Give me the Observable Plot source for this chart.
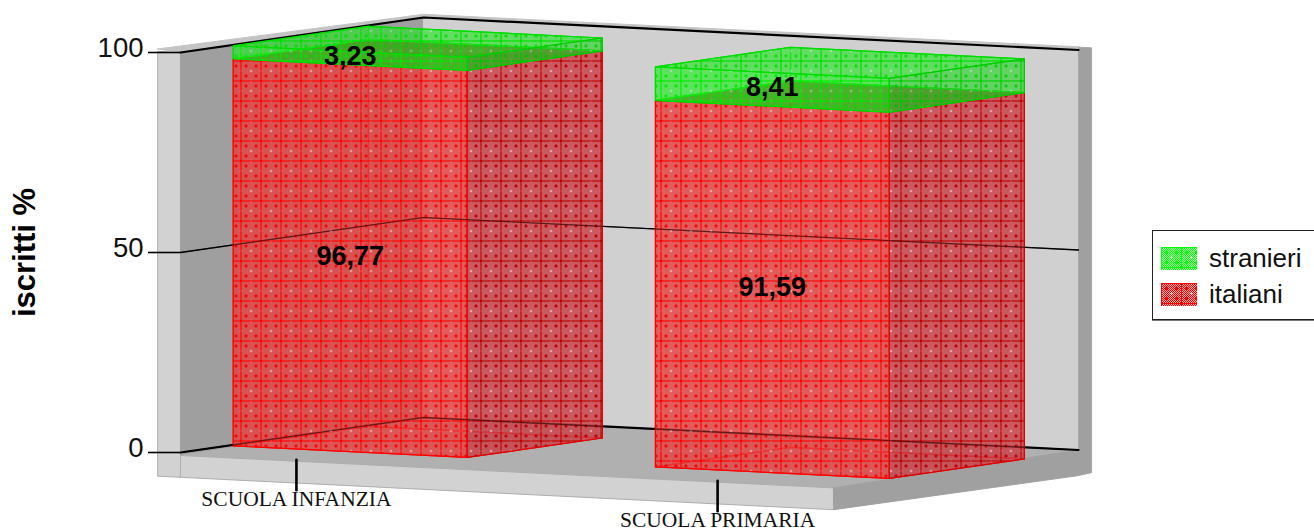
<!DOCTYPE html>
<html lang="it">
<head>
<meta charset="utf-8">
<script src="https://cdn.jsdelivr.net/npm/d3@7"></script>
<script src="https://cdn.jsdelivr.net/npm/@observablehq/plot@0.6"></script>
<style>
  html, body { margin: 0; padding: 0; background: #fff; }
  #chart { position: relative; width: 1314px; height: 531px; overflow: hidden; }
  #chart > svg { position: absolute; left: 0; top: 0; background: #fff; }
  #legend { position: absolute; left: 1152px; top: 230px; width: 170px; height: 88px;
    border: 1.5px solid #222; box-shadow: 0 1px 0 #777; font: 26px "Liberation Sans", sans-serif; color: #111; background: #fff; }
  #legend .row { position: absolute; left: 8px; display: flex; align-items: center; height: 24px; }
  #legend svg { width: 36px; height: 23px; margin-right: 12px; display: block; }
</style>
</head>
<body>
<div id="chart"></div>
<script>
// ---- data
const categories = ["SCUOLA INFANZIA", "SCUOLA PRIMARIA"];
const italiani = [96.77, 91.59];
const stranieri = [3.23, 8.41];
const valueLabels = {italiani: ["96,77", "91,59"], stranieri: ["3,23", "8,41"]};
const yTicks = [0, 50, 100];
const seriesNames = ["stranieri", "italiani"];

// ---- oblique axes: u along the categories, d into the depth, v = percentage
const skewX = 243 / 655, riseU = 32.5 / 4, riseD = 35 / 4;
const px = (u, d) => u + d * skewX;
const py = (u, d, v) => v - u * riseU + d * riseD;
const barStart = [0.0075, 0.652], tickU = [0.177, 0.82];
const barW = 0.357, d0 = 0.197, d1 = 0.753;

const poly = (id, fill, stroke, pts) =>
  [...pts, pts[0]].map(([u, d, v]) => ({id, fill, stroke, x: px(u, d), y: py(u, d, v)}));

// ---- chart shell
const shell = [
  ...poly("frontLeft", "#d2d2d2", "#b0b0b0", [[-0.035, 0, 100], [0, 0, 100], [0, 0, -6.2], [-0.035, 0, -6.2]]),
  ...poly("lip", "#c4c4c4", "#c4c4c4", [[-0.035, 0, 100.6], [0, 1, 100.8], [1, 1, 100.8], [1, 1, 100], [0, 1, 100], [0, 0, 100]]),
  ...poly("leftWall", "#9f9f9f", "#9f9f9f", [[0, 0, 100], [0, 1, 100], [0, 1, 0], [0, 0, -0.75]]),
  ...poly("backWall", "#d0d0d0", "#d0d0d0", [[0, 1, 100], [1, 1, 100], [1, 1, 0], [0, 1, 0]]),
  ...poly("rightWall", "#a0a0a0", "#a8a8a8", [[1, 1, 100.7], [1.02, 1, 100.7], [1.02, 1, -5.5], [1, 1, -6.4]]),
  ...poly("floor", "#b0b0b0", "#b0b0b0", [[0, 0, -0.75], [0, 1, 0], [1, 1, 0], [0.997, 0, -0.75]]),
  ...poly("floorFront", "#d2d2d2", "#adadad", [[0, 0, -0.75], [0.997, 0, -0.75], [0.997, 0, -6.2], [0, 0, -6.2]]),
  ...poly("floorSide", "#a0a0a0", "#a0a0a0", [[0.997, 0, -0.75], [1, 1, 0], [1, 1, -6.4], [0.997, 0, -6.2]])
];

// ---- horizontal reference lines on the walls
const gridLines = yTicks.flatMap((v) =>
  [[0, 0], [0, 1], [1, 1]].map(([u, d]) => ({v, x: px(u, d), y: py(u, d, v)})));
const lineWeight = (d) => (d.v === 50 ? 1.3 : 2.2);

// ---- bars
const faces = [];
function addBox(name, i, lo, hi, c) {
  const a = barStart[i], b = a + barW, key = `${name}${i}`;
  const f = (tag, fill, stroke, pts) => faces.push(...poly(key + tag, fill, stroke, pts));
  const edge = c === "r" ? "#f00" : "#0d0";
  f("bottom", c === "r" ? "url(#rBack)" : "none", edge, [[a, d0, lo], [b, d0, lo], [b, d1, lo], [a, d1, lo]]);
  f("back", `url(#${c}Back)`, edge, [[a, d1, lo], [b, d1, lo], [b, d1, hi], [a, d1, hi]]);
  f("left", `url(#${c}Back)`, edge, [[a, d0, lo], [a, d1, lo], [a, d1, hi], [a, d0, hi]]);
  f("top", `url(#${c}Top)`, c === "r" ? "#0b0" : "#0d0", [[a, d0, hi], [b, d0, hi], [b, d1, hi], [a, d1, hi]]);
  f("front", `url(#${c}Front)`, edge, [[a, d0, lo], [b, d0, lo], [b, d0, hi], [a, d0, hi]]);
  f("right", `url(#${c}Right)`, c === "r" ? "#d00" : "#0c0", [[b, d0, lo], [b, d1, lo], [b, d1, hi], [b, d0, hi]]);
}
categories.forEach((_, i) => {
  addBox("italiani", i, 0, italiani[i], "r");
  addBox("stranieri", i, italiani[i], italiani[i] + stranieri[i], "g");
});

// ---- category ticks and labels on the front of the floor
const catTicks = categories.flatMap((name, i) =>
  [-0.4, -8].map((v) => ({name, x: px(tickU[i], 0), y: py(tickU[i], 0, v)})));
const catLabels = categories.map((name, i) => ({name, x: px(tickU[i], 0), y: py(tickU[i], 0, -10.2)}));

// ---- value labels, centred on the front face of each segment
const labels = categories.flatMap((_, i) => {
  const u = barStart[i] + barW / 2;
  return [
    {t: valueLabels.italiani[i], x: px(u, d0), y: py(u, d0, italiani[i] / 2)},
    {t: valueLabels.stranieri[i], x: px(u, d0), y: py(u, d0, italiani[i] + stranieri[i] / 2)}
  ];
});

const svg = Plot.plot({
  width: 1314, height: 531,
  marginLeft: 180, marginRight: 479, marginTop: 52, marginBottom: 79,
  style: {fontFamily: "'Liberation Sans', sans-serif", background: "#fff"},
  x: {domain: [0, 1], axis: null},
  y: {domain: [0, 100], axis: null},
  color: {type: "identity"},
  marks: [
    Plot.line(shell, {x: "x", y: "y", z: "id", fill: "fill", stroke: "stroke", strokeWidth: 1}),
    Plot.line(gridLines, {x: "x", y: "y", z: "v", stroke: "#000", strokeWidth: lineWeight}),
    Plot.axisY(yTicks, {anchor: "left", tickSize: 32, tickFormat: () => "", label: null, strokeWidth: 1.6, stroke: "#000"}),
    Plot.axisY(yTicks, {anchor: "left", tickSize: 0, tickPadding: 37, dy: -4, fontSize: 27.5, label: null, fill: "#111"}),
    Plot.line(faces, {x: "x", y: "y", z: "id", fill: "fill", stroke: "stroke", strokeWidth: 1.2}),
    Plot.line(gridLines.filter((d) => d.v < 100), {x: "x", y: "y", z: "v", stroke: "#000", strokeOpacity: 0.5, strokeWidth: 1.1}),
    Plot.line(catTicks, {x: "x", y: "y", z: "name", stroke: "#000", strokeWidth: 2.6}),
    Plot.text(catLabels, {x: "x", y: "y", text: "name", fontFamily: "'Liberation Serif', serif", fontSize: 21.5, fill: "#111"}),
    Plot.text(labels, {x: "x", y: "y", text: "t", dy: -2, fontSize: 27, fontWeight: "bold", fill: "#000"}),
    Plot.text(["iscritti %"], {frameAnchor: "left", textAnchor: "middle", dx: -155, rotate: -90, fontSize: 31, fontWeight: "bold", fill: "#000"})
  ]
});

// ---- halftone fills: a pixel weave with crosses and a 20px grid, in screen space
function addPattern(defs, id, ink, gap, line, light) {
  const p = defs.append("pattern").attr("id", id).attr("patternUnits", "userSpaceOnUse")
    .attr("width", 20).attr("height", 20);
  for (let i = 0; i < 20; i++) for (let j = 0; j < 20; j++) {
    const dx = Math.abs((i % 10) - 5), dy = Math.abs((j % 10) - 5);
    const zx = Math.min(i % 10, 10 - i % 10), zy = Math.min(j % 10, 10 - j % 10);
    const grid = i === 0 || j === 0;
    const fill = grid ? line
      : dx + dy <= 1 ? ink
      : zx + zy <= 1 ? light
      : (i + j) % 2 === 0 ? ink : gap;
    p.append("rect").attr("x", i).attr("y", j).attr("width", 1).attr("height", 1)
      .attr("shape-rendering", "crispEdges").attr("fill", fill);
  }
}
const defs = d3.select(svg).insert("defs", ":first-child");
addPattern(defs, "rFront", "rgba(245,0,0,0.9)", "rgba(205,165,165,0.6)", "#f00", "rgba(240,210,210,0.8)");
addPattern(defs, "rRight", "rgba(190,0,10,0.95)", "rgba(210,170,175,0.6)", "#b00", "rgba(240,215,215,0.85)");
addPattern(defs, "rBack", "rgba(255,0,0,0.35)", "rgba(255,255,255,0)", "rgba(255,0,0,0.6)", "rgba(255,255,255,0)");
addPattern(defs, "rTop", "rgba(95,70,0,0.9)", "rgba(70,90,20,0.6)", "rgba(60,110,0,0.9)", "rgba(90,110,30,0.6)");
addPattern(defs, "rFlat", "#f00", "#ffb4b4", "#f00", "#ffe0e0");
addPattern(defs, "gFront", "rgba(0,235,0,0.9)", "rgba(210,255,210,0.2)", "#0e0", "rgba(225,255,225,0.45)");
addPattern(defs, "gRight", "rgba(0,205,0,0.85)", "rgba(220,240,220,0.2)", "#0c0", "rgba(225,245,225,0.4)");
addPattern(defs, "gBack", "rgba(0,220,0,0.45)", "rgba(255,255,255,0)", "rgba(0,220,0,0.6)", "rgba(255,255,255,0)");
addPattern(defs, "gTop", "rgba(0,225,0,0.85)", "rgba(210,255,210,0.2)", "#0d0", "rgba(225,255,225,0.4)");
addPattern(defs, "gFlat", "#0f0", "#b8ffb8", "#0f0", "#e0ffe0");

const chart = document.getElementById("chart");
chart.appendChild(svg);

// ---- legend
const legend = d3.select(chart).append("div").attr("id", "legend");
seriesNames.forEach((name, i) => {
  const row = legend.append("div").attr("class", "row").style("top", `${15 + i * 36}px`);
  row.append("svg").attr("viewBox", "0 0 36 23").append("rect")
    .attr("width", 36).attr("height", 23).attr("fill", `url(#${i === 0 ? "g" : "r"}Flat)`);
  row.append("span").text(name);
});
</script>
</body>
</html>
